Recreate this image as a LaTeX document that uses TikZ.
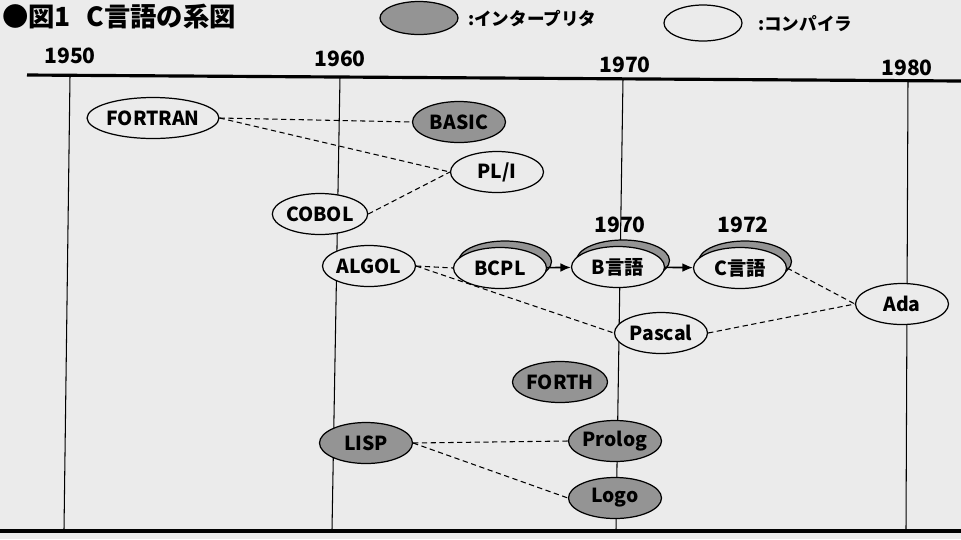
\documentclass[tikz,border=0pt]{standalone}
\usepackage{fontspec}
\setmainfont{Noto Sans CJK JP}
\usetikzlibrary{shapes.geometric,arrows.meta,shadows}
\definecolor{paper}{gray}{0.92}
\definecolor{interp}{gray}{0.58}

\begin{document}
\begin{tikzpicture}[x=0.02cm,y=-0.02cm,
  lang/.style={ellipse,draw,line width=0.7pt,minimum width=1.86cm,minimum height=0.82cm,
    inner sep=0pt,font=\fontsize{11}{13}\selectfont\bfseries},
  comp/.style={lang,fill=paper},
  inter/.style={lang,fill=interp},
  shad/.style={comp,general shadow={shadow xshift=0.1cm,shadow yshift=0.13cm,
    fill=interp,draw,line width=0.7pt}},
  link/.style={dash pattern=on 3pt off 2pt,line width=0.6pt},
  year/.style={font=\fontsize{12}{14}\selectfont\bfseries}]
  \useasboundingbox (0,0) rectangle (961,539);
  \fill[paper] (0,0) rectangle (961,539);
  % title and legend
  \node[anchor=west,inner sep=1pt,font=\fontsize{15}{17}\selectfont\bfseries] (title) at (0,17) {●図1\hspace{0.6em}C言語の系図};
  \node[inter,minimum width=1.56cm,minimum height=0.66cm] (keyint) at (419,18) {};
  \node[anchor=west,font=\fontsize{10}{12}\selectfont\bfseries] (keyinttext) at (462,19) {:インタープリタ};
  \node[comp,minimum width=1.56cm,minimum height=0.72cm] (keycomp) at (703,23) {};
  \node[anchor=west,font=\fontsize{10}{12}\selectfont\bfseries] (keycomptext) at (752,24) {:コンパイラ};
  % time axis (thick bars) and year lines
  \draw[line width=1.8pt] (27,75) -- (961,81);
  \draw[line width=1.8pt] (0,531) -- (961,531);
  \draw[line width=0.6pt] (70,76) -- (64,530);
  \draw[line width=0.6pt] (340,77) -- (332,530);
  \draw[line width=0.6pt] (623,79) -- (616,530);
  \draw[line width=0.6pt] (908,80) -- (906,530);
  \node[year] (y1950) at (70,56) {1950};
  \node[year] (y1960) at (340,59) {1960};
  \node[year] (y1970) at (625,65) {1970};
  \node[year] (y1980) at (907,68) {1980};
  % languages
  \node[comp] (fortran) at (153,118) {FORTRAN};
  \node[inter] (basic) at (459,122) {BASIC};
  \node[comp] (pli) at (497,172) {PL/I};
  \node[comp] (cobol) at (320,214) {COBOL};
  \node[comp] (algol) at (369,266) {ALGOL};
  \node[shad] (bcpl) at (500,268) {BCPL};
  \node[shad] (blang) at (618,267) {B言語};
  \node[shad] (clang) at (740,268) {C言語};
  \node[year] (yb) at (620,225) {1970};
  \node[year] (yc) at (743,225) {1972};
  \node[comp] (pascal) at (661,333) {Pascal};
  \node[comp] (ada) at (902,304) {Ada};
  \node[inter] (forth) at (560,382) {FORTH};
  \node[inter] (lisp) at (366,443) {LISP};
  \node[inter] (prolog) at (615,441) {Prolog};
  \node[inter] (logo) at (615,498) {Logo};
  % lineage
  \draw[link] (fortran.east) -- (basic.west);
  \draw[link] (fortran.east) -- (pli.west);
  \draw[link] (cobol.east) -- (pli.west);
  \draw[link] (algol.east) -- (bcpl.west);
  \draw[link] (algol.east) -- (pascal.west);
  \draw[link] (pascal.east) -- (ada.west);
  \draw[link] (clang.east) -- (ada.west);
  \draw[link] (lisp.east) -- (prolog.west);
  \draw[link] (lisp.east) -- (logo.west);
  \draw[-{Latex[length=6pt,width=5pt]},line width=0.9pt] (bcpl) -- (blang);
  \draw[-{Latex[length=6pt,width=5pt]},line width=0.9pt] (blang) -- (clang);
\end{tikzpicture}
\end{document}
